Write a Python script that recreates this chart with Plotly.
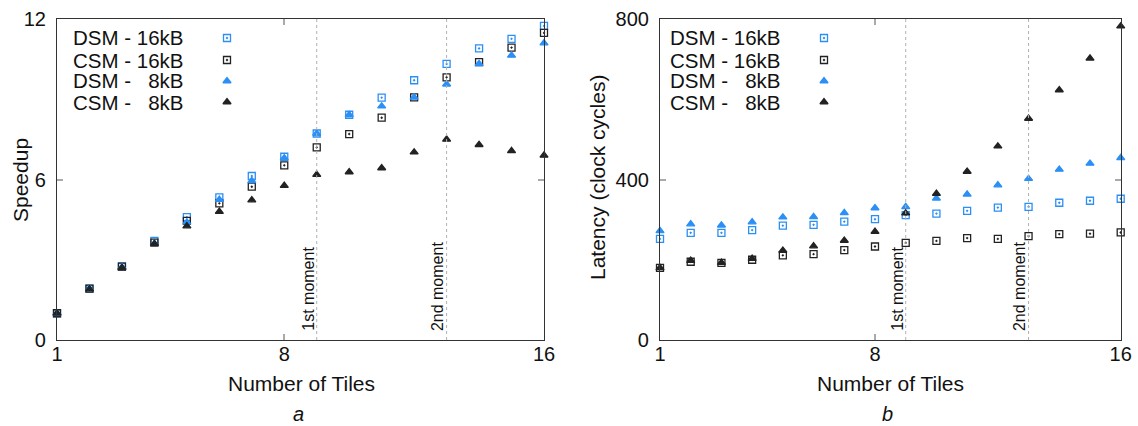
import plotly.graph_objects as go

W, H = 1138, 426

tiles = list(range(1, 17))

# Speedup (chart a)
speed_dsm16 = [1.0, 1.92, 2.75, 3.70, 4.59, 5.33, 6.13, 6.85, 7.72, 8.42, 9.06, 9.71, 10.32, 10.90, 11.26, 11.74]
speed_csm16 = [1.0, 1.92, 2.74, 3.64, 4.45, 5.11, 5.73, 6.53, 7.20, 7.70, 8.31, 9.07, 9.82, 10.39, 10.93, 11.48]
speed_dsm8 = [1.0, 1.92, 2.72, 3.60, 4.40, 5.25, 5.95, 6.80, 7.72, 8.42, 8.74, 9.07, 9.56, 10.32, 10.64, 11.10]
speed_csm8 = [1.0, 1.90, 2.70, 3.60, 4.26, 4.80, 5.23, 5.77, 6.18, 6.28, 6.43, 7.02, 7.50, 7.30, 7.07, 6.90]

# Latency in clock cycles (chart b)
lat_dsm16 = [252, 267, 267, 274, 285, 287, 295, 301, 311, 315, 322, 330, 332, 342, 347, 352]
lat_csm16 = [180, 195, 192, 200, 211, 214, 224, 233, 242, 247, 254, 252, 259, 264, 265, 268]
lat_dsm8 = [272, 289, 286, 294, 306, 307, 317, 329, 332, 353, 363, 386, 402, 425, 440, 454]
lat_csm8 = [180, 198, 193, 203, 223, 234, 248, 270, 316, 365, 420, 483, 552, 623, 702, 782]

series_names = ["DSM - 16kB", "CSM - 16kB", "DSM -\u00a0\u00a0\u00a08kB", "CSM -\u00a0\u00a0\u00a08kB"]
moments = [9, 13]
moment_labels = ["1st moment", "2nd moment"]
x_ticks = [1, 8, 16]
speed_ticks = [0, 6, 12]
lat_ticks = [0, 400, 800]

BLUE = "#2b8ff5"
BLACK = "#222222"
FONT = "Liberation Sans, Arial, sans-serif"

styles = [
    dict(symbol="square-open-dot", color=BLUE),
    dict(symbol="square-open-dot", color=BLACK),
    dict(symbol="triangle-up", color=BLUE),
    dict(symbol="triangle-up", color=BLACK),
]

fig = go.Figure()

def add_series(ys, xa, ya):
    for y, st in zip(ys, styles):
        fig.add_trace(go.Scatter(
            x=tiles, y=y, mode="markers", xaxis=xa, yaxis=ya, showlegend=False,
            cliponaxis=False,
            marker=dict(symbol=st["symbol"], size=7, color=st["color"],
                        line=dict(width=1.3, color=st["color"])),
        ))

add_series([speed_dsm16, speed_csm16, speed_dsm8, speed_csm8], "x", "y")
add_series([lat_dsm16, lat_csm16, lat_dsm8, lat_csm8], "x2", "y2")

# Legend markers on a full-page helper axis
leg_rows_y = [38, 60, 81, 102]
for lx in [227, 824]:
    for st, py in zip(styles, leg_rows_y):
        fig.add_trace(go.Scatter(
            x=[lx / W], y=[1 - py / H], mode="markers", xaxis="x3", yaxis="y3",
            showlegend=False, hoverinfo="skip", cliponaxis=False,
            marker=dict(symbol=st["symbol"], size=7, color=st["color"],
                        line=dict(width=1.3, color=st["color"])),
        ))

ydom = [(H - 340) / H, (H - 19) / H]
axis_common = dict(
    showgrid=False, zeroline=False, showline=True, linecolor="#333", linewidth=1.2,
    mirror="ticks", ticks="inside", ticklen=6, tickcolor="#aaaaaa", tickwidth=1.5,
    automargin=False,
    tickfont=dict(family=FONT, size=20, color="#111"),
)

fig.update_layout(
    width=W, height=H, margin=dict(l=0, r=0, t=0, b=0),
    paper_bgcolor="white", plot_bgcolor="rgba(0,0,0,0)",
    xaxis=dict(domain=[57 / W, 544 / W], range=[1, 16], tickvals=x_ticks, anchor="y",
               ticklabelstandoff=-4, **axis_common),
    yaxis=dict(domain=ydom, range=[0, 12], tickvals=speed_ticks, anchor="x",
               ticklabelstandoff=6, **axis_common),
    xaxis2=dict(domain=[660 / W, 1120.7 / W], range=[1, 16], tickvals=x_ticks, anchor="y2",
                ticklabelstandoff=-4, **axis_common),
    yaxis2=dict(domain=ydom, range=[0, 800], tickvals=lat_ticks, anchor="x2",
                ticklabelstandoff=6, **axis_common),
    xaxis3=dict(domain=[0, 1], range=[0, 1], visible=False, anchor="y3", automargin=False),
    yaxis3=dict(domain=[0, 1], range=[0, 1], visible=False, anchor="x3", automargin=False),
)

shapes = []
annotations = []
for xa, ya in [("x", "y"), ("x2", "y2")]:
    for m, lab in zip(moments, moment_labels):
        shapes.append(dict(type="line", xref=xa, yref=f"{ya} domain", x0=m, x1=m, y0=0, y1=1,
                           line=dict(color="#b0b0b0", width=1, dash="dot")))
        annotations.append(dict(xref=xa, yref=f"{ya} domain", x=m, y=0, text=lab,
                                textangle=-90, showarrow=False, xanchor="center",
                                yanchor="bottom", xshift=-9, yshift=7,
                                font=dict(family=FONT, size=16, color="#111")))

# Legend text (right-justified)
for rx in [186, 783]:
    for name, py in zip(series_names, leg_rows_y):
        annotations.append(dict(xref="paper", yref="paper", x=rx / W, y=1 - py / H,
                                text=name, showarrow=False, xanchor="right", yanchor="middle",
                                font=dict(family=FONT, size=20.5, color="#111")))

def ptext(x, y, text, size=21, angle=0, italic=False):
    annotations.append(dict(xref="paper", yref="paper", x=x / W, y=1 - y / H, text=text,
                            showarrow=False, xanchor="center", yanchor="middle",
                            textangle=angle,
                            font=dict(family=FONT, size=size, color="#111",
                                      style="italic" if italic else "normal")))

ptext(301, 383, "Number of Tiles")
ptext(890, 383, "Number of Tiles")
ptext(20, 180, "Speedup", angle=-90)
ptext(597, 178, "Latency (clock cycles)", angle=-90)
ptext(298, 414, "a", size=20, italic=True)
ptext(887, 414, "b", size=20, italic=True)

fig.update_layout(shapes=shapes, annotations=annotations)
fig.write_html("out.html")
